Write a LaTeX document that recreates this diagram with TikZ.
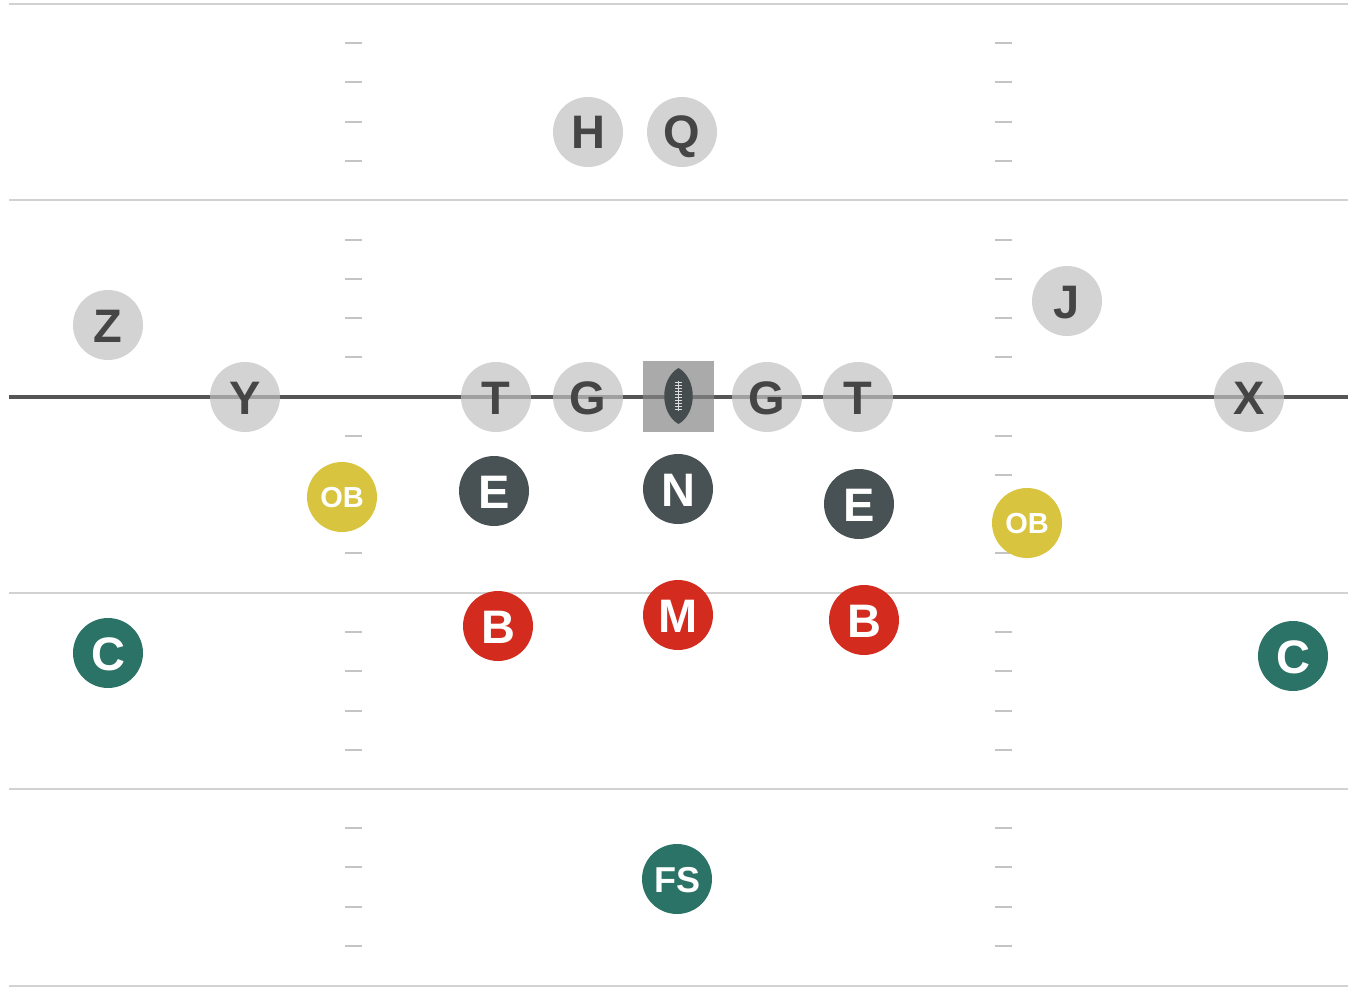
\documentclass[tikz,border=0pt]{standalone}
\usepackage{fontspec}
\setmainfont{Liberation Sans}
\definecolor{yardline}{HTML}{D2D2D2}
\definecolor{hashc}{HTML}{C4C4C4}
\definecolor{losc}{HTML}{555555}
\definecolor{offc}{HTML}{C0C0C0}
\definecolor{offtxt}{HTML}{454545}
\definecolor{dlc}{HTML}{485153}
\definecolor{obc}{HTML}{D9C440}
\definecolor{lbc}{HTML}{D42B1F}
\definecolor{dbc}{HTML}{2B7366}
\definecolor{boxc}{HTML}{868686}
\definecolor{ballc}{HTML}{454C4E}
\tikzset{
  player/.style={circle, minimum size=70pt, inner sep=0pt, font=\fontsize{47}{47}\selectfont\bfseries, text height=34pt, text depth=0pt},
  off/.style={player, fill=offc, fill opacity=0.7, text opacity=1, text=offtxt},
  dl/.style={player, fill=dlc, text=white},
  ob/.style={player, fill=obc, text=white, font=\fontsize{29}{29}\selectfont\bfseries, text height=21pt},
  lb/.style={player, fill=lbc, text=white},
  db/.style={player, fill=dbc, text=white},
  yard/.style={draw=yardline, line width=2.5pt},
  hashm/.style={draw=hashc, line width=2pt},
}
\begin{document}
\begin{tikzpicture}[x=1pt,y=-1pt]
\useasboundingbox (0,0) rectangle (1362,1006);
% yard lines
\foreach \yy in {4,200,593,789,986}
  \draw[yard] (9,\yy) -- (1348,\yy);
% hash marks
\foreach \yy in {43,82,122,161,240,279,318,357,436,475,514,553,632,671,711,750,828,867,907,946} {
  \draw[hashm] (345,\yy) -- (362,\yy);
  \draw[hashm] (995,\yy) -- (1012,\yy);
}
% line of scrimmage
\coordinate (losl) at (9,397);
\coordinate (losr) at (1348,397);
\draw[losc, line width=4.5pt] (losl) -- (losr);
% offense
\node[off] (h) at (588,132) {H};
\node[off] (q) at (682,132) {Q};
\node[off] (z) at (108,325) {Z};
\node[off] (j) at (1067,301) {J};
\node[off] (y) at (245,397) {Y};
\node[off] (tl) at (496,397) {T};
\node[off] (gl) at (588,397) {G};
\node[off] (gr) at (767,397) {G};
\node[off] (tr) at (858,397) {T};
\node[off] (x) at (1249,397) {X};
% ball
\node[rectangle, minimum size=71pt, inner sep=0pt, fill=boxc, fill opacity=0.7] (ball) at (678.5,396) {};
\begin{scope}[shift={(ball.center)}]
  \fill[ballc] (0,-28) .. controls (19,-17) and (19,17) .. (0,28) .. controls (-19,17) and (-19,-17) .. (0,-28) -- cycle;
  \draw[white!80!ballc, line width=0.8pt] (0,-15) -- (0,15);
  \foreach \k in {-14,-11,...,14}
    \draw[white!80!ballc, line width=0.7pt] (-3.5,\k) -- (3.5,\k);
\end{scope}
% defense
\node[ob] (obl) at (342,497) {OB};
\node[dl] (el) at (494,491) {E};
\node[dl] (n) at (678,489) {N};
\node[dl] (er) at (859,504) {E};
\node[ob] (obr) at (1027,523) {OB};
\node[db] (cl) at (108,653) {C};
\node[lb] (bl) at (498,626) {B};
\node[lb] (m) at (678,615) {M};
\node[lb] (br) at (864,620) {B};
\node[db] (cr) at (1293,656) {C};
\node[db, font=\fontsize{36}{36}\selectfont\bfseries, text height=26pt] (fs) at (677,879) {FS};
\end{tikzpicture}
\end{document}
